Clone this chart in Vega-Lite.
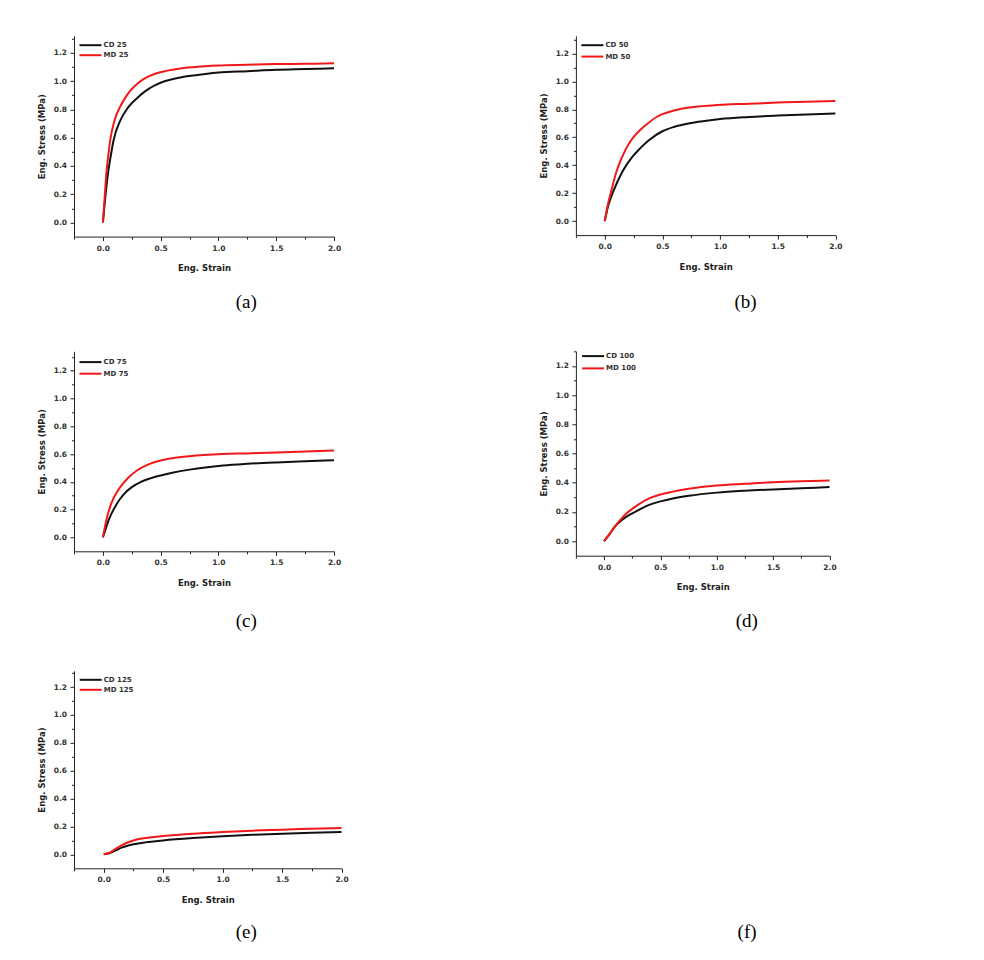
{
  "$schema": "https://vega.github.io/schema/vega-lite/v6.json",
  "background": "white",
  "padding": {"left": 37, "top": 33.8, "right": 5, "bottom": 5},
  "datasets": {
    "curves": [
      {"panel": "a", "series": "CD 25", "strain": 0, "stress": 0},
      {"panel": "a", "series": "CD 25", "strain": 0.02, "stress": 0.17},
      {"panel": "a", "series": "CD 25", "strain": 0.043, "stress": 0.34},
      {"panel": "a", "series": "CD 25", "strain": 0.07, "stress": 0.48},
      {"panel": "a", "series": "CD 25", "strain": 0.092, "stress": 0.58},
      {"panel": "a", "series": "CD 25", "strain": 0.15, "stress": 0.72},
      {"panel": "a", "series": "CD 25", "strain": 0.22, "stress": 0.815},
      {"panel": "a", "series": "CD 25", "strain": 0.3, "stress": 0.882},
      {"panel": "a", "series": "CD 25", "strain": 0.35, "stress": 0.918},
      {"panel": "a", "series": "CD 25", "strain": 0.4, "stress": 0.947},
      {"panel": "a", "series": "CD 25", "strain": 0.45, "stress": 0.97},
      {"panel": "a", "series": "CD 25", "strain": 0.54, "stress": 1.0},
      {"panel": "a", "series": "CD 25", "strain": 0.7, "stress": 1.03},
      {"panel": "a", "series": "CD 25", "strain": 0.885, "stress": 1.05},
      {"panel": "a", "series": "CD 25", "strain": 1.0, "stress": 1.06},
      {"panel": "a", "series": "CD 25", "strain": 1.25, "stress": 1.07},
      {"panel": "a", "series": "CD 25", "strain": 1.5, "stress": 1.08},
      {"panel": "a", "series": "CD 25", "strain": 1.75, "stress": 1.085},
      {"panel": "a", "series": "CD 25", "strain": 2.0, "stress": 1.09},
      {"panel": "a", "series": "MD 25", "strain": 0, "stress": 0},
      {"panel": "a", "series": "MD 25", "strain": 0.015, "stress": 0.17},
      {"panel": "a", "series": "MD 25", "strain": 0.029, "stress": 0.34},
      {"panel": "a", "series": "MD 25", "strain": 0.045, "stress": 0.46},
      {"panel": "a", "series": "MD 25", "strain": 0.063, "stress": 0.58},
      {"panel": "a", "series": "MD 25", "strain": 0.1, "stress": 0.72},
      {"panel": "a", "series": "MD 25", "strain": 0.15, "stress": 0.82},
      {"panel": "a", "series": "MD 25", "strain": 0.2, "stress": 0.89},
      {"panel": "a", "series": "MD 25", "strain": 0.236, "stress": 0.93},
      {"panel": "a", "series": "MD 25", "strain": 0.3, "stress": 0.983},
      {"panel": "a", "series": "MD 25", "strain": 0.37, "stress": 1.022},
      {"panel": "a", "series": "MD 25", "strain": 0.44, "stress": 1.048},
      {"panel": "a", "series": "MD 25", "strain": 0.55, "stress": 1.072},
      {"panel": "a", "series": "MD 25", "strain": 0.7, "stress": 1.092},
      {"panel": "a", "series": "MD 25", "strain": 0.885, "stress": 1.105},
      {"panel": "a", "series": "MD 25", "strain": 1.0, "stress": 1.11},
      {"panel": "a", "series": "MD 25", "strain": 1.25, "stress": 1.115},
      {"panel": "a", "series": "MD 25", "strain": 1.5, "stress": 1.12},
      {"panel": "a", "series": "MD 25", "strain": 1.75, "stress": 1.122},
      {"panel": "a", "series": "MD 25", "strain": 2.0, "stress": 1.125},

      {"panel": "b", "series": "CD 50", "strain": 0, "stress": 0},
      {"panel": "b", "series": "CD 50", "strain": 0.03, "stress": 0.11},
      {"panel": "b", "series": "CD 50", "strain": 0.078, "stress": 0.22},
      {"panel": "b", "series": "CD 50", "strain": 0.15, "stress": 0.35},
      {"panel": "b", "series": "CD 50", "strain": 0.237, "stress": 0.458},
      {"panel": "b", "series": "CD 50", "strain": 0.3, "stress": 0.515},
      {"panel": "b", "series": "CD 50", "strain": 0.38, "stress": 0.577},
      {"panel": "b", "series": "CD 50", "strain": 0.5, "stress": 0.643},
      {"panel": "b", "series": "CD 50", "strain": 0.6, "stress": 0.674},
      {"panel": "b", "series": "CD 50", "strain": 0.75, "stress": 0.702},
      {"panel": "b", "series": "CD 50", "strain": 0.93, "stress": 0.723},
      {"panel": "b", "series": "CD 50", "strain": 1.0, "stress": 0.73},
      {"panel": "b", "series": "CD 50", "strain": 1.25, "stress": 0.745},
      {"panel": "b", "series": "CD 50", "strain": 1.5, "stress": 0.755},
      {"panel": "b", "series": "CD 50", "strain": 1.75, "stress": 0.763},
      {"panel": "b", "series": "CD 50", "strain": 2.0, "stress": 0.77},
      {"panel": "b", "series": "MD 50", "strain": 0, "stress": 0},
      {"panel": "b", "series": "MD 50", "strain": 0.025, "stress": 0.11},
      {"panel": "b", "series": "MD 50", "strain": 0.058, "stress": 0.22},
      {"panel": "b", "series": "MD 50", "strain": 0.1, "stress": 0.35},
      {"panel": "b", "series": "MD 50", "strain": 0.15, "stress": 0.458},
      {"panel": "b", "series": "MD 50", "strain": 0.223, "stress": 0.572},
      {"panel": "b", "series": "MD 50", "strain": 0.26, "stress": 0.612},
      {"panel": "b", "series": "MD 50", "strain": 0.3, "stress": 0.647},
      {"panel": "b", "series": "MD 50", "strain": 0.367, "stress": 0.695},
      {"panel": "b", "series": "MD 50", "strain": 0.45, "stress": 0.745},
      {"panel": "b", "series": "MD 50", "strain": 0.5, "stress": 0.765},
      {"panel": "b", "series": "MD 50", "strain": 0.6, "stress": 0.792},
      {"panel": "b", "series": "MD 50", "strain": 0.75, "stress": 0.815},
      {"panel": "b", "series": "MD 50", "strain": 0.93, "stress": 0.828},
      {"panel": "b", "series": "MD 50", "strain": 1.25, "stress": 0.84},
      {"panel": "b", "series": "MD 50", "strain": 1.5, "stress": 0.848},
      {"panel": "b", "series": "MD 50", "strain": 1.75, "stress": 0.855},
      {"panel": "b", "series": "MD 50", "strain": 2.0, "stress": 0.86},

      {"panel": "c", "series": "CD 75", "strain": 0, "stress": 0},
      {"panel": "c", "series": "CD 75", "strain": 0.02, "stress": 0.05},
      {"panel": "c", "series": "CD 75", "strain": 0.049, "stress": 0.122},
      {"panel": "c", "series": "CD 75", "strain": 0.121, "stress": 0.243},
      {"panel": "c", "series": "CD 75", "strain": 0.18, "stress": 0.31},
      {"panel": "c", "series": "CD 75", "strain": 0.25, "stress": 0.362},
      {"panel": "c", "series": "CD 75", "strain": 0.33, "stress": 0.4},
      {"panel": "c", "series": "CD 75", "strain": 0.41, "stress": 0.425},
      {"panel": "c", "series": "CD 75", "strain": 0.5, "stress": 0.446},
      {"panel": "c", "series": "CD 75", "strain": 0.6, "stress": 0.465},
      {"panel": "c", "series": "CD 75", "strain": 0.75, "stress": 0.488},
      {"panel": "c", "series": "CD 75", "strain": 1.04, "stress": 0.518},
      {"panel": "c", "series": "CD 75", "strain": 1.25, "stress": 0.53},
      {"panel": "c", "series": "CD 75", "strain": 1.5, "stress": 0.54},
      {"panel": "c", "series": "CD 75", "strain": 1.75, "stress": 0.548},
      {"panel": "c", "series": "CD 75", "strain": 2.0, "stress": 0.555},
      {"panel": "c", "series": "MD 75", "strain": 0, "stress": 0},
      {"panel": "c", "series": "MD 75", "strain": 0.029, "stress": 0.122},
      {"panel": "c", "series": "MD 75", "strain": 0.072, "stress": 0.243},
      {"panel": "c", "series": "MD 75", "strain": 0.15, "stress": 0.362},
      {"panel": "c", "series": "MD 75", "strain": 0.22, "stress": 0.43},
      {"panel": "c", "series": "MD 75", "strain": 0.294, "stress": 0.482},
      {"panel": "c", "series": "MD 75", "strain": 0.4, "stress": 0.528},
      {"panel": "c", "series": "MD 75", "strain": 0.5, "stress": 0.554},
      {"panel": "c", "series": "MD 75", "strain": 0.6, "stress": 0.57},
      {"panel": "c", "series": "MD 75", "strain": 0.75, "stress": 0.585},
      {"panel": "c", "series": "MD 75", "strain": 1.04, "stress": 0.6},
      {"panel": "c", "series": "MD 75", "strain": 1.25, "stress": 0.605},
      {"panel": "c", "series": "MD 75", "strain": 1.5, "stress": 0.612},
      {"panel": "c", "series": "MD 75", "strain": 1.75, "stress": 0.618},
      {"panel": "c", "series": "MD 75", "strain": 2.0, "stress": 0.625},

      {"panel": "d", "series": "CD 100", "strain": 0, "stress": 0},
      {"panel": "d", "series": "CD 100", "strain": 0.05, "stress": 0.05},
      {"panel": "d", "series": "CD 100", "strain": 0.092, "stress": 0.096},
      {"panel": "d", "series": "CD 100", "strain": 0.15, "stress": 0.14},
      {"panel": "d", "series": "CD 100", "strain": 0.2, "stress": 0.168},
      {"panel": "d", "series": "CD 100", "strain": 0.25, "stress": 0.19},
      {"panel": "d", "series": "CD 100", "strain": 0.3, "stress": 0.21},
      {"panel": "d", "series": "CD 100", "strain": 0.4, "stress": 0.248},
      {"panel": "d", "series": "CD 100", "strain": 0.5, "stress": 0.272},
      {"panel": "d", "series": "CD 100", "strain": 0.6, "stress": 0.29},
      {"panel": "d", "series": "CD 100", "strain": 0.75, "stress": 0.31},
      {"panel": "d", "series": "CD 100", "strain": 1.0, "stress": 0.332},
      {"panel": "d", "series": "CD 100", "strain": 1.25, "stress": 0.345},
      {"panel": "d", "series": "CD 100", "strain": 1.5, "stress": 0.354},
      {"panel": "d", "series": "CD 100", "strain": 1.75, "stress": 0.362},
      {"panel": "d", "series": "CD 100", "strain": 2.0, "stress": 0.37},
      {"panel": "d", "series": "MD 100", "strain": 0, "stress": 0},
      {"panel": "d", "series": "MD 100", "strain": 0.05, "stress": 0.05},
      {"panel": "d", "series": "MD 100", "strain": 0.092, "stress": 0.096},
      {"panel": "d", "series": "MD 100", "strain": 0.15, "stress": 0.15},
      {"panel": "d", "series": "MD 100", "strain": 0.2, "stress": 0.19},
      {"panel": "d", "series": "MD 100", "strain": 0.25, "stress": 0.221},
      {"panel": "d", "series": "MD 100", "strain": 0.3, "stress": 0.248},
      {"panel": "d", "series": "MD 100", "strain": 0.4, "stress": 0.292},
      {"panel": "d", "series": "MD 100", "strain": 0.5, "stress": 0.319},
      {"panel": "d", "series": "MD 100", "strain": 0.6, "stress": 0.337},
      {"panel": "d", "series": "MD 100", "strain": 0.75, "stress": 0.358},
      {"panel": "d", "series": "MD 100", "strain": 1.0, "stress": 0.38},
      {"panel": "d", "series": "MD 100", "strain": 1.25, "stress": 0.392},
      {"panel": "d", "series": "MD 100", "strain": 1.5, "stress": 0.403},
      {"panel": "d", "series": "MD 100", "strain": 1.75, "stress": 0.41},
      {"panel": "d", "series": "MD 100", "strain": 2.0, "stress": 0.415},

      {"panel": "e", "series": "CD 125", "strain": 0, "stress": 0},
      {"panel": "e", "series": "CD 125", "strain": 0.05, "stress": 0.01},
      {"panel": "e", "series": "CD 125", "strain": 0.1, "stress": 0.028},
      {"panel": "e", "series": "CD 125", "strain": 0.15, "stress": 0.048},
      {"panel": "e", "series": "CD 125", "strain": 0.2, "stress": 0.062},
      {"panel": "e", "series": "CD 125", "strain": 0.25, "stress": 0.072},
      {"panel": "e", "series": "CD 125", "strain": 0.35, "stress": 0.086},
      {"panel": "e", "series": "CD 125", "strain": 0.5, "stress": 0.1},
      {"panel": "e", "series": "CD 125", "strain": 0.75, "stress": 0.117},
      {"panel": "e", "series": "CD 125", "strain": 1.0, "stress": 0.13},
      {"panel": "e", "series": "CD 125", "strain": 1.25, "stress": 0.14},
      {"panel": "e", "series": "CD 125", "strain": 1.5, "stress": 0.148},
      {"panel": "e", "series": "CD 125", "strain": 1.75, "stress": 0.155},
      {"panel": "e", "series": "CD 125", "strain": 2.0, "stress": 0.16},
      {"panel": "e", "series": "MD 125", "strain": 0, "stress": 0},
      {"panel": "e", "series": "MD 125", "strain": 0.05, "stress": 0.012},
      {"panel": "e", "series": "MD 125", "strain": 0.1, "stress": 0.04},
      {"panel": "e", "series": "MD 125", "strain": 0.15, "stress": 0.065},
      {"panel": "e", "series": "MD 125", "strain": 0.2, "stress": 0.085},
      {"panel": "e", "series": "MD 125", "strain": 0.25, "stress": 0.1},
      {"panel": "e", "series": "MD 125", "strain": 0.35, "stress": 0.117},
      {"panel": "e", "series": "MD 125", "strain": 0.5, "stress": 0.131},
      {"panel": "e", "series": "MD 125", "strain": 0.75, "stress": 0.148},
      {"panel": "e", "series": "MD 125", "strain": 1.0, "stress": 0.16},
      {"panel": "e", "series": "MD 125", "strain": 1.25, "stress": 0.17},
      {"panel": "e", "series": "MD 125", "strain": 1.5, "stress": 0.177},
      {"panel": "e", "series": "MD 125", "strain": 1.75, "stress": 0.184},
      {"panel": "e", "series": "MD 125", "strain": 2.0, "stress": 0.19}
    ]
  },
  "columns": 2,
  "align": "none",
  "bounds": "flush",
  "spacing": {"row": 114.5, "column": 233.9},
  "concat": [
    {
      "width": 260, "height": 200.8,
      "data": {"name": "curves"},
      "transform": [{"filter": "datum.panel === 'a'"}],
      "mark": {"type": "line", "interpolate": "monotone", "strokeWidth": 2},
      "encoding": {
        "x": {"field": "strain", "type": "quantitative", "scale": {"domain": [-0.25, 2], "nice": false, "zero": false},
              "axis": {"title": "Eng. Strain", "values": [-0.25, 0, 0.25, 0.5, 0.75, 1, 1.25, 1.5, 1.75, 2],
                       "labelExpr": "abs(round(datum.value*4)) % 2 === 0 ? format(datum.value, '.1f') : ''",
                       "tickSize": {"condition": {"test": "abs(round(datum.value*4)) % 2 === 1", "value": 2.5}, "value": 4},
                       "labelPadding": 3.5, "titlePadding": 12}},
        "y": {"field": "stress", "type": "quantitative", "scale": {"domain": [-0.1, 1.32], "nice": false, "zero": false},
              "axis": {"title": "Eng. Stress (MPa)", "values": [0, 0.1, 0.2, 0.3, 0.4, 0.5, 0.6, 0.7, 0.8, 0.9, 1.0, 1.1, 1.2, 1.3],
                       "labelExpr": "round(datum.value*10) % 2 === 0 ? format(datum.value, '.1f') : ''",
                       "tickSize": {"condition": {"test": "round(datum.value*10) % 2 === 1", "value": 2.5}, "value": 4},
                       "labelPadding": 3.5, "titlePadding": 6.6}},
        "color": {"field": "series", "type": "nominal", "scale": {"domain": ["CD 25", "MD 25"], "range": ["#111111", "#f01818"]},
                  "legend": {"orient": "none", "legendX": 5.5, "legendY": 3.4, "rowPadding": 0}}
      },
      "title": {"text": "(a)", "dx": 42.2, "offset": 20.9}
    },
    {
      "width": 259.5, "height": 199.3,
      "data": {"name": "curves"},
      "transform": [{"filter": "datum.panel === 'b'"}],
      "mark": {"type": "line", "interpolate": "monotone", "strokeWidth": 2},
      "encoding": {
        "x": {"field": "strain", "type": "quantitative", "scale": {"domain": [-0.25, 2], "nice": false, "zero": false},
              "axis": {"title": "Eng. Strain", "values": [-0.25, 0, 0.25, 0.5, 0.75, 1, 1.25, 1.5, 1.75, 2],
                       "labelExpr": "abs(round(datum.value*4)) % 2 === 0 ? format(datum.value, '.1f') : ''",
                       "tickSize": {"condition": {"test": "abs(round(datum.value*4)) % 2 === 1", "value": 2.5}, "value": 4},
                       "labelPadding": 3.5, "titlePadding": 12}},
        "y": {"field": "stress", "type": "quantitative", "scale": {"domain": [-0.1, 1.326], "nice": false, "zero": false},
              "axis": {"title": "Eng. Stress (MPa)", "values": [0, 0.1, 0.2, 0.3, 0.4, 0.5, 0.6, 0.7, 0.8, 0.9, 1.0, 1.1, 1.2, 1.3],
                       "labelExpr": "round(datum.value*10) % 2 === 0 ? format(datum.value, '.1f') : ''",
                       "tickSize": {"condition": {"test": "round(datum.value*10) % 2 === 1", "value": 2.5}, "value": 4},
                       "labelPadding": 3.5, "titlePadding": 6.6}},
        "color": {"field": "series", "type": "nominal", "scale": {"domain": ["CD 50", "MD 50"], "range": ["#111111", "#f01818"]},
                  "legend": {"orient": "none", "legendX": 5.5, "legendY": 3.4, "rowPadding": 1.4}}
      },
      "title": {"text": "(b)", "dx": 39.8, "offset": 22.2}
    },
    {
      "width": 260, "height": 200.0,
      "data": {"name": "curves"},
      "transform": [{"filter": "datum.panel === 'c'"}],
      "mark": {"type": "line", "interpolate": "monotone", "strokeWidth": 2},
      "encoding": {
        "x": {"field": "strain", "type": "quantitative", "scale": {"domain": [-0.25, 2], "nice": false, "zero": false},
              "axis": {"title": "Eng. Strain", "values": [-0.25, 0, 0.25, 0.5, 0.75, 1, 1.25, 1.5, 1.75, 2],
                       "labelExpr": "abs(round(datum.value*4)) % 2 === 0 ? format(datum.value, '.1f') : ''",
                       "tickSize": {"condition": {"test": "abs(round(datum.value*4)) % 2 === 1", "value": 2.5}, "value": 4},
                       "labelPadding": 3.5, "titlePadding": 12}},
        "y": {"field": "stress", "type": "quantitative", "scale": {"domain": [-0.1, 1.34], "nice": false, "zero": false},
              "axis": {"title": "Eng. Stress (MPa)", "values": [0, 0.1, 0.2, 0.3, 0.4, 0.5, 0.6, 0.7, 0.8, 0.9, 1.0, 1.1, 1.2, 1.3],
                       "labelExpr": "round(datum.value*10) % 2 === 0 ? format(datum.value, '.1f') : ''",
                       "tickSize": {"condition": {"test": "round(datum.value*10) % 2 === 1", "value": 2.5}, "value": 4},
                       "labelPadding": 3.5, "titlePadding": 6.6}},
        "color": {"field": "series", "type": "nominal", "scale": {"domain": ["CD 75", "MD 75"], "range": ["#111111", "#f01818"]},
                  "legend": {"orient": "none", "legendX": 5.5, "legendY": 4.8, "rowPadding": 1.6}}
      },
      "title": {"text": "(c)", "dx": 42.2, "offset": 25.2}
    },
    {
      "width": 253.6, "height": 204.4,
      "data": {"name": "curves"},
      "transform": [{"filter": "datum.panel === 'd'"}],
      "mark": {"type": "line", "interpolate": "monotone", "strokeWidth": 2},
      "encoding": {
        "x": {"field": "strain", "type": "quantitative", "scale": {"domain": [-0.25, 2], "nice": false, "zero": false},
              "axis": {"title": "Eng. Strain", "values": [-0.25, 0, 0.25, 0.5, 0.75, 1, 1.25, 1.5, 1.75, 2],
                       "labelExpr": "abs(round(datum.value*4)) % 2 === 0 ? format(datum.value, '.1f') : ''",
                       "tickSize": {"condition": {"test": "abs(round(datum.value*4)) % 2 === 1", "value": 2.5}, "value": 4},
                       "labelPadding": 3.5, "titlePadding": 12}},
        "y": {"field": "stress", "type": "quantitative", "scale": {"domain": [-0.1, 1.3], "nice": false, "zero": false},
              "axis": {"title": "Eng. Stress (MPa)", "values": [0, 0.1, 0.2, 0.3, 0.4, 0.5, 0.6, 0.7, 0.8, 0.9, 1.0, 1.1, 1.2, 1.3],
                       "labelExpr": "round(datum.value*10) % 2 === 0 ? format(datum.value, '.1f') : ''",
                       "tickSize": {"condition": {"test": "round(datum.value*10) % 2 === 1", "value": 2.5}, "value": 4},
                       "labelPadding": 3.5, "titlePadding": 6.6}},
        "color": {"field": "series", "type": "nominal", "scale": {"domain": ["CD 100", "MD 100"], "range": ["#111111", "#f01818"]},
                  "legend": {"orient": "none", "legendX": 6.2, "legendY": -1.2, "rowPadding": 2.3}}
      },
      "title": {"text": "(d)", "dx": 44, "offset": 21.1}
    },
    {
      "width": 267.5, "height": 197.5,
      "data": {"name": "curves"},
      "transform": [{"filter": "datum.panel === 'e'"}],
      "mark": {"type": "line", "interpolate": "monotone", "strokeWidth": 2},
      "encoding": {
        "x": {"field": "strain", "type": "quantitative", "scale": {"domain": [-0.25, 2], "nice": false, "zero": false},
              "axis": {"title": "Eng. Strain", "values": [-0.25, 0, 0.25, 0.5, 0.75, 1, 1.25, 1.5, 1.75, 2],
                       "labelExpr": "abs(round(datum.value*4)) % 2 === 0 ? format(datum.value, '.1f') : ''",
                       "tickSize": {"condition": {"test": "abs(round(datum.value*4)) % 2 === 1", "value": 2.5}, "value": 4},
                       "labelPadding": 3.5, "titlePadding": 12}},
        "y": {"field": "stress", "type": "quantitative", "scale": {"domain": [-0.1, 1.317], "nice": false, "zero": false},
              "axis": {"title": "Eng. Stress (MPa)", "values": [0, 0.1, 0.2, 0.3, 0.4, 0.5, 0.6, 0.7, 0.8, 0.9, 1.0, 1.1, 1.2, 1.3],
                       "labelExpr": "round(datum.value*10) % 2 === 0 ? format(datum.value, '.1f') : ''",
                       "tickSize": {"condition": {"test": "round(datum.value*10) % 2 === 1", "value": 2.5}, "value": 4},
                       "labelPadding": 3.5, "titlePadding": 6.6}},
        "color": {"field": "series", "type": "nominal", "scale": {"domain": ["CD 125", "MD 125"], "range": ["#111111", "#f01818"]},
                  "legend": {"orient": "none", "legendX": 5.7, "legendY": 3.0, "rowPadding": 0}}
      },
      "title": {"text": "(e)", "dx": 38.5, "offset": 19.4}
    },
    {
      "width": 254, "height": 196,
      "data": {"values": [{"v": 0}]},
      "mark": {"type": "point", "opacity": 0},
      "view": {"stroke": "white"},
      "title": {"text": "(f)", "dx": 44.2, "offset": 55.8}
    }
  ],
  "resolve": {
    "scale": {"color": "independent", "x": "independent", "y": "independent"},
    "legend": {"color": "independent"}
  },
  "config": {
    "view": {"stroke": null},
    "axis": {
      "grid": false,
      "domainColor": "#222222",
      "tickColor": "#222222",
      "labelFont": "DejaVu Sans",
      "labelFontWeight": "bold",
      "labelFontSize": 7.5,
      "labelColor": "#333333",
      "labelOverlap": false,
      "labelFlush": false,
      "titleFont": "DejaVu Sans",
      "titleFontWeight": "bold",
      "titleFontSize": 8.5,
      "titleColor": "#222222"
    },
    "legend": {
      "title": null,
      "symbolType": "M-1.2,0H3.2",
      "symbolSize": 100,
      "symbolStrokeWidth": 2,
      "labelFont": "DejaVu Sans",
      "labelFontWeight": "bold",
      "labelFontSize": 7,
      "labelColor": "#333333",
      "labelOffset": 12,
      "padding": 0
    },
    "title": {
      "orient": "bottom",
      "anchor": "middle",
      "frame": "group",
      "font": "Liberation Serif",
      "fontSize": 19,
      "fontWeight": "normal",
      "color": "#000000"
    }
  }
}
